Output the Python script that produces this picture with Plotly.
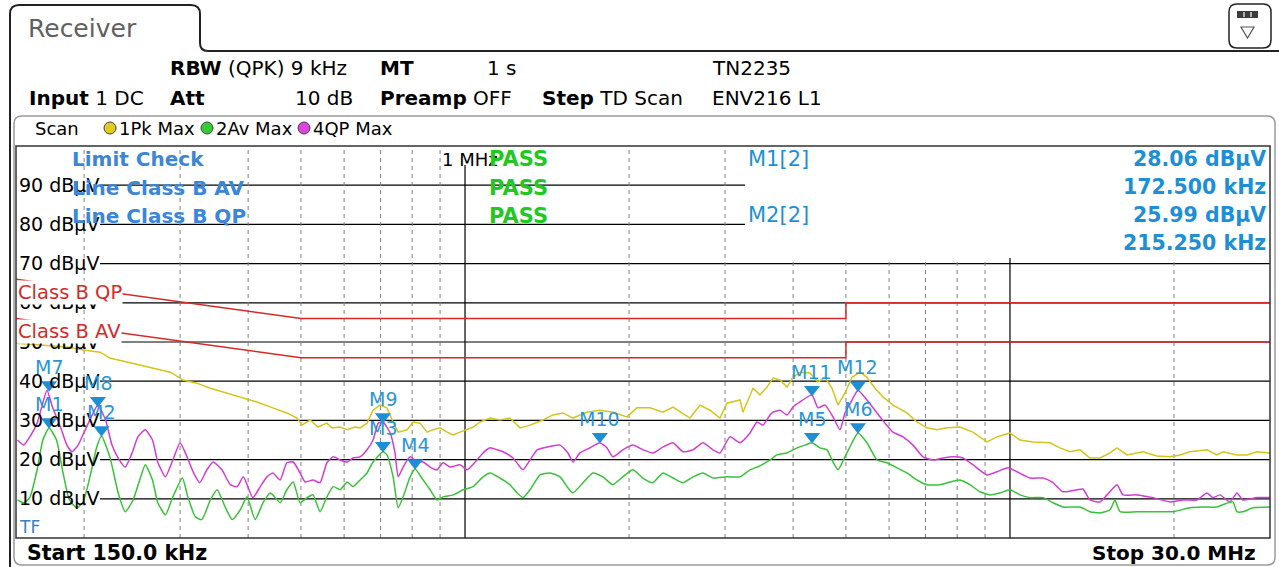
import math
import plotly.graph_objects as go

# ---------------- data ----------------
pk_freq = [0.150,0.166,0.186,0.201,0.214,0.223,0.240,0.264,0.288,0.304,0.322,0.341,0.366,0.392,0.415,0.444,0.471,0.492,0.502,0.520,
           0.537,0.558,0.570,0.590,0.608,0.628,0.642,0.661,0.678,0.698,0.719,0.738,0.754,0.783,0.803,0.827,0.852,0.874,0.900,0.927,
           0.951,0.979,1.009,1.035,1.066,1.112,1.159,1.209,1.262,1.316,1.390,1.450,1.513,1.578,1.674,1.768,1.868,1.982,2.067,2.184,
           2.307,2.408,2.587,2.699,2.815,2.937,3.025,3.196,3.236,3.376,3.478,3.582,3.674,3.784,3.898,3.998,4.118,4.296,4.443,4.577,
           4.714,4.835,4.980,5.130,5.306,5.465,5.653,5.847,6.100,6.471,6.749,7.041,7.344,7.662,8.093,8.550,9.070,9.466,10.00,10.43,
           11.02,11.84,12.35,12.89,13.44,14.02,14.63,15.26,15.72,16.39,17.54,18.61,19.66,20.51,21.39,22.98,23.97,24.59,26.09,27.21,
           28.39,30.0]
pk_level = [49.7,49.2,48.7,47.9,47.4,45.9,44.9,43.6,42.3,40.3,39.5,38.2,37.0,35.7,34.7,33.2,31.9,30.6,28.8,30.1,
            28.3,29.3,28.1,28.3,27.6,28.3,28.1,29.3,32.6,33.9,33.2,29.6,27.0,27.6,29.6,29.3,27.0,27.6,28.1,27.0,
            26.3,27.0,27.6,28.3,29.6,30.6,30.1,30.6,28.1,28.8,30.1,31.4,31.9,30.6,32.1,32.6,32.1,30.9,33.2,33.2,
            32.1,33.4,30.6,33.9,32.6,30.6,34.4,35.2,32.1,38.2,36.5,38.5,40.8,40.3,38.5,41.0,42.3,42.1,39.8,41.0,
            38.2,33.9,37.0,41.0,42.3,41.0,38.2,36.0,33.9,31.9,29.6,28.1,27.6,28.1,28.3,27.0,24.5,25.8,26.8,25.0,
            24.5,24.3,23.0,22.0,22.5,20.4,20.4,21.7,23.0,21.2,22.0,20.9,20.7,21.2,22.0,22.5,21.2,22.0,21.2,21.2,
            22.0,21.7]

qp_freq = [0.151,0.155,0.159,0.164,0.167,0.171,0.175,0.181,0.186,0.190,0.195,0.201,0.207,0.212,0.219,0.225,0.231,0.238,0.245,0.251,
           0.259,0.267,0.273,0.282,0.291,0.300,0.309,0.317,0.326,0.336,0.345,0.358,0.371,0.382,0.392,0.408,0.421,0.433,0.444,0.458,
           0.471,0.484,0.498,0.509,0.526,0.542,0.558,0.573,0.590,0.608,0.623,0.642,0.661,0.678,0.693,0.707,0.729,0.744,0.754,0.770,
           0.793,0.817,0.838,0.863,0.889,0.911,0.939,0.979,1.009,1.052,1.079,1.112,1.145,1.174,1.225,1.262,1.278,1.316,1.356,1.414,
           1.494,1.545,1.578,1.625,1.695,1.768,1.821,1.868,1.948,2.033,2.120,2.212,2.307,2.408,2.512,2.620,2.733,2.851,2.937,3.063,
           3.196,3.334,3.434,3.522,3.628,3.674,3.784,3.898,3.998,4.118,4.332,4.443,4.577,4.734,4.876,4.980,5.130,5.261,5.465,5.701,
           5.897,6.100,6.363,6.637,6.923,7.221,7.533,7.858,8.197,8.550,9.070,9.466,9.916,10.30,10.88,11.50,11.99,12.51,13.27,13.61,
           14.02,14.63,15.07,15.72,16.12,17.10,18.30,19.66,20.77,22.03,22.98,23.57,24.28,25.33,26.09,26.76,28.39,30.0]
qp_level = [25.0,23.7,25.8,29.3,33.2,37.7,33.4,28.3,23.7,22.0,23.7,27.6,31.4,33.9,30.1,23.7,20.4,18.1,21.7,25.8,
            27.6,25.0,19.4,15.6,19.9,24.3,20.7,16.9,14.1,17.4,19.4,17.4,13.6,13.1,15.6,10.3,13.1,15.6,16.6,14.8,
            19.2,19.4,16.6,14.3,14.8,14.1,19.2,20.7,19.9,19.4,20.4,20.7,22.5,25.0,29.3,29.6,26.8,21.7,15.6,18.1,
            20.7,19.4,19.4,18.1,17.4,19.2,18.1,18.7,17.4,19.9,21.7,23.0,22.5,22.0,20.4,18.1,17.4,19.9,22.5,23.2,
            23.7,21.7,19.4,21.7,23.0,24.3,23.0,20.7,22.5,23.7,22.5,21.7,23.2,24.3,22.0,22.5,24.3,22.5,21.7,25.8,
            24.3,26.8,29.6,28.8,31.4,32.1,32.6,31.4,33.4,34.7,36.5,33.2,33.9,30.9,27.6,31.9,35.2,37.7,35.2,31.9,
            29.3,27.0,25.8,23.7,20.7,19.9,20.4,20.7,20.4,18.7,16.1,16.9,17.9,16.9,15.3,15.3,14.1,11.8,12.3,12.5,
            9.7,9.2,11.0,13.6,11.0,11.0,10.3,9.2,9.7,9.7,11.5,10.3,11.0,9.2,11.5,9.7,10.3,10.3]

av_freq = [0.151,0.155,0.159,0.164,0.168,0.1725,0.178,0.183,0.188,0.194,0.199,0.205,0.211,0.21525,0.223,0.231,0.238,0.246,0.253,0.259,
           0.267,0.273,0.282,0.291,0.303,0.310,0.320,0.329,0.341,0.351,0.363,0.374,0.387,0.398,0.412,0.426,0.439,0.444,0.458,0.471,
           0.484,0.498,0.513,0.526,0.542,0.558,0.573,0.590,0.608,0.623,0.642,0.661,0.678,0.707,0.719,0.738,0.754,0.770,0.793,0.810,
           0.838,0.863,0.889,0.911,0.951,0.992,1.035,1.079,1.112,1.159,1.209,1.246,1.278,1.316,1.373,1.432,1.494,1.539,1.578,1.646,
           1.717,1.791,1.868,1.948,2.033,2.120,2.212,2.307,2.408,2.512,2.620,2.733,2.851,3.025,3.196,3.334,3.478,3.628,3.736,3.898,
           4.066,4.206,4.332,4.481,4.616,4.734,4.835,4.980,5.130,5.261,5.465,5.701,5.947,6.204,6.471,6.749,7.041,7.438,7.759,8.093,
           8.442,8.806,9.185,9.586,10.00,10.43,10.88,11.50,11.99,12.51,13.44,14.02,14.63,15.26,15.58,15.92,17.10,18.61,19.91,21.39,
           22.60,23.97,24.59,25.65,26.09,26.76,27.91,30.0]
av_level = [9.7,9.0,10.3,17.4,25.0,28.06,25.0,16.6,9.7,7.7,9.0,15.6,23.2,25.99,20.7,11.5,6.7,9.7,14.8,18.7,
            14.8,9.0,5.9,10.5,15.3,10.5,5.4,4.7,9.7,12.3,7.9,4.7,7.2,10.5,4.7,9.0,11.5,11.0,9.0,12.3,
            14.3,9.0,10.3,11.0,6.7,10.5,13.1,12.3,14.3,13.1,14.8,16.6,19.4,22.0,21.2,15.6,7.7,10.5,15.6,17.6,
            14.8,12.3,9.7,10.5,11.0,12.3,13.1,15.6,16.6,15.3,13.6,11.5,10.3,12.3,16.1,16.6,15.6,13.1,11.5,14.1,
            16.6,15.6,13.6,15.6,17.4,15.3,14.1,16.6,15.3,14.1,15.6,16.6,15.3,15.6,15.6,17.4,18.4,19.9,21.2,21.7,
            23.0,23.7,24.3,23.0,22.5,19.4,17.4,20.7,24.3,26.8,24.3,19.9,19.2,17.9,16.6,14.8,13.6,13.6,14.3,14.8,
            13.6,11.8,11.0,11.5,12.3,11.0,10.3,10.3,9.0,7.9,7.9,6.7,6.4,7.2,9.7,6.7,6.7,6.7,6.7,7.7,
            7.9,7.9,8.5,9.2,6.7,6.7,7.7,7.9]

lim_freq = [0.15, 0.5, 5.0, 5.0, 30.0]
lim_qp = [66, 56, 56, 60, 60]
lim_av = [56, 46, 46, 50, 50]

mk_names = ["M1", "M2", "M3", "M4", "M5", "M6", "M7", "M8", "M9", "M10", "M11", "M12"]
mk_freq = [0.1725, 0.21525, 0.707, 0.810, 4.332, 5.261, 0.1725, 0.212, 0.707, 1.768, 4.332, 5.261]
mk_level = [28.06, 25.99, 22.0, 17.6, 24.3, 26.8, 37.5, 33.5, 29.3, 24.3, 36.3, 37.4]

y_ticks = [10, 20, 30, 40, 50, 60, 70, 80, 90]
grid_dashed = [0.2, 0.3, 0.4, 0.5, 0.6, 0.7, 0.8, 0.9, 2, 3, 4, 5, 6, 7, 8, 9, 20]
grid_solid = [1, 10]

# ---------------- styling / layout helpers ----------------
FONT = "DejaVu Sans"
C_PK, C_QP, C_AV, C_LIM = "#d4c41c", "#d23cd2", "#38c238", "#d42a2a"
C_MK, C_BLUE = "#1e8fd6", "#3a86d8"
FW, FH = 1279, 567
L, R, T, B = 16, 1270, 146, 538


def px(x):
    return (x - L) / (R - L)


def py(y):
    return (B - y) / (B - T)


def P(x, y):
    return f"{px(x):.5f},{py(y):.5f}"


fig = go.Figure()
fig.add_trace(go.Scatter(x=pk_freq, y=pk_level, mode="lines", line=dict(color=C_PK, width=1.5), hoverinfo="skip"))
fig.add_trace(go.Scatter(x=qp_freq, y=qp_level, mode="lines",
                         line=dict(color=C_QP, width=1.5, shape="spline", smoothing=0.5), hoverinfo="skip"))
fig.add_trace(go.Scatter(x=av_freq, y=av_level, mode="lines",
                         line=dict(color=C_AV, width=1.5, shape="spline", smoothing=0.5), hoverinfo="skip"))
fig.add_trace(go.Scatter(x=lim_freq, y=lim_qp, mode="lines", line=dict(color=C_LIM, width=1.5), hoverinfo="skip"))
fig.add_trace(go.Scatter(x=lim_freq, y=lim_av, mode="lines", line=dict(color=C_LIM, width=1.5), hoverinfo="skip"))
fig.add_trace(go.Scatter(x=mk_freq, y=[v + 1.6 for v in mk_level], mode="markers",
                         marker=dict(symbol="triangle-down", size=14, color=C_MK, line=dict(width=0)),
                         hoverinfo="skip"))

shapes = []
# horizontal grid
for v in y_ticks:
    shapes.append(dict(type="line", xref="paper", yref="y", x0=px(100), x1=px(745) if v >= 80 else 1,
                       y0=v, y1=v, line=dict(color="black", width=1.2), layer="below"))
# vertical grid
for f in grid_dashed:
    top = 1 if f < 3.5 else py(258)
    shapes.append(dict(type="line", xref="x", yref="paper", x0=f, x1=f, y0=0, y1=top,
                       line=dict(color="#808080", width=1, dash="4px,4px"), layer="below"))
for f in grid_solid:
    top = py(165) if f < 5 else py(258)
    shapes.append(dict(type="line", xref="x", yref="paper", x0=f, x1=f, y0=0, y1=top,
                       line=dict(color="black", width=1.2), layer="below"))

# frames
shapes.append(dict(type="path", xref="paper", yref="paper",
                   path=f"M {P(10,567)} L {P(10,14)} Q {P(10,5)} {P(19,5)} L {P(191,5)} Q {P(200,5)} {P(200,14)} "
                        f"L {P(200,43)} Q {P(200,51)} {P(208,51)} L {P(1279,51)}",
                   line=dict(color="#222222", width=2)))
shapes.append(dict(type="path", xref="paper", yref="paper",
                   path=f"M {P(14,124)} Q {P(14,116)} {P(22,116)} L {P(1267,116)} Q {P(1275,116)} {P(1275,124)} "
                        f"L {P(1275,557)} Q {P(1275,565)} {P(1267,565)} L {P(22,565)} Q {P(14,565)} {P(14,557)} Z",
                   line=dict(color="#9a9a9a", width=1.5)))
shapes.append(dict(type="rect", xref="paper", yref="paper", x0=0, x1=1, y0=0, y1=1,
                   line=dict(color="#333333", width=1.5)))
# icon box
shapes.append(dict(type="path", xref="paper", yref="paper",
                   path=f"M {P(1229,12)} Q {P(1229,4)} {P(1237,4)} L {P(1263,4)} Q {P(1271,4)} {P(1271,12)} "
                        f"L {P(1271,40)} Q {P(1271,48)} {P(1263,48)} L {P(1237,48)} Q {P(1229,48)} {P(1229,40)} Z",
                   line=dict(color="#222222", width=1.5), fillcolor="white"))
shapes.append(dict(type="rect", xref="paper", yref="paper", x0=px(1237), x1=px(1258), y0=py(18), y1=py(11),
                   line=dict(width=0), fillcolor="#3c3c3c"))
for xx in (1244, 1251):
    shapes.append(dict(type="line", xref="paper", yref="paper", x0=px(xx), x1=px(xx), y0=py(17), y1=py(12),
                       line=dict(color="white", width=1.2)))
shapes.append(dict(type="path", xref="paper", yref="paper",
                   path=f"M {P(1241,27)} L {P(1254,27)} L {P(1247.5,38)} Z", line=dict(color="#555555", width=1.2)))
# legend circles
for cx, col in ((110, "#e0cc20"), (207, "#33cc33"), (304, "#dd44dd")):
    shapes.append(dict(type="circle", xref="paper", yref="paper", x0=px(cx - 6), x1=px(cx + 6),
                       y0=py(134), y1=py(122), line=dict(color="#444444", width=1), fillcolor=col))

ann = []


def txt(x, y, text, size=20, color="black", anchor="left", bg=None, family=FONT):
    d = dict(xref="paper", yref="paper", x=px(x), y=py(y), text=text, showarrow=False,
             xanchor=anchor, yanchor="middle", font=dict(family=family, size=size, color=color))
    if bg:
        d["bgcolor"] = bg
        d["borderpad"] = 0
    ann.append(d)


txt(26, 28, "Receiver", size=25, color="#606060")
txt(168, 68, "<b>RBW</b> (QPK) 9 kHz")
txt(378, 68, "<b>MT</b>")
txt(485, 68, "1 s")
txt(710, 68, "TN2235")
txt(27, 98, "<b>Input</b> 1 DC")
txt(168, 98, "<b>Att</b>")
txt(355, 98, "10 dB", anchor="right")
txt(378, 98, "<b>Preamp</b> OFF")
txt(540, 98, "<b>Step</b> TD Scan")
txt(710, 98, "ENV216 L1")
txt(33, 128, "Scan", size=18)
txt(117, 128, "1Pk Max", size=18)
txt(214, 128, "2Av Max", size=18)
txt(311, 128, "4QP Max", size=18)

txt(440, 159, "1 MHz", size=18)
txt(70, 159, "<b>Limit Check</b>", size=20, color=C_BLUE)
txt(70, 188, "<b>Line Class B AV</b>", size=20, color=C_BLUE)
txt(70, 216, "<b>Line Class B QP</b>", size=20, color=C_BLUE)
for yy in (159, 188, 216):
    txt(487, yy, "<b>PASS</b>", size=21, color="#22c822")
txt(746, 159, "M1[2]", size=21, color=C_MK)
txt(746, 215, "M2[2]", size=21, color=C_MK)
txt(1268, 159, "<b>28.06 dBµV</b>", size=20.5, color=C_MK, anchor="right")
txt(1268, 187, "<b>172.500 kHz</b>", size=20.5, color=C_MK, anchor="right")
txt(1268, 215, "<b>25.99 dBµV</b>", size=20.5, color=C_MK, anchor="right")
txt(1268, 243, "<b>215.250 kHz</b>", size=20.5, color=C_MK, anchor="right")

txt(17, 292, "Class B QP", size=19.5, color=C_LIM, bg="white")
txt(17, 331, "Class B AV", size=19.5, color=C_LIM, bg="white")
txt(17, 527, "TF", size=17, color="#3a7fc0")
txt(25, 553, "<b>Start 150.0 kHz</b>", size=20.5)
txt(1258, 553, "<b>Stop 30.0 MHz</b>", size=20, anchor="right")

for name, f, lv in zip(mk_names, mk_freq, mk_level):
    ann.append(dict(x=math.log10(f), y=lv, xref="x", yref="y", text=name, showarrow=False,
                    yshift=24, xanchor="center", yanchor="middle",
                    font=dict(family=FONT, size=19, color="#2a96d6")))

fig.update_layout(
    width=FW, height=FH,
    margin=dict(l=L, r=FW - R, t=T, b=FH - B, autoexpand=False),
    paper_bgcolor="white", plot_bgcolor="white", showlegend=False,
    xaxis=dict(type="log", range=[math.log10(0.15), math.log10(30)], showgrid=False, zeroline=False,
               showticklabels=False, ticks=""),
    yaxis=dict(range=[0, 100], tickvals=y_ticks, ticktext=[f"{v} dBµV" for v in y_ticks],
               ticklabelposition="inside", showgrid=False, zeroline=False, ticks="",
               tickfont=dict(family=FONT, size=19, color="black")),
    shapes=shapes, annotations=ann,
)
fig.write_html("out.html", config={"displayModeBar": False},
               post_script="document.body.style.margin='0';document.body.style.padding='0';"
                           "document.body.style.overflow='hidden';")
